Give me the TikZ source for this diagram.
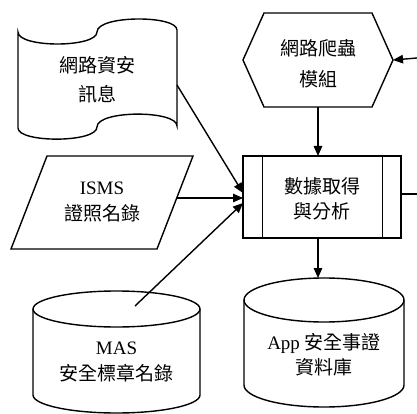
\documentclass[tikz,border=0pt]{standalone}
\usepackage{fontspec}
\setmainfont{Liberation Serif}
\newfontfamily\cjk{Noto Sans CJK TC}
\usetikzlibrary{arrows.meta}
\begin{document}
\begin{tikzpicture}[x=1pt,y=-1pt,line width=1.4pt,
  txt/.style={font=\fontsize{19}{24}\selectfont,align=center,inner sep=0pt},
  arr/.style={-{Triangle[length=10pt,width=8.5pt]}},
  shapeline/.style={draw=black,line width=1.4pt}]
\useasboundingbox (0,0) rectangle (417,414);

% wavy document
\draw[shapeline] (18,32) .. controls (18,48) and (97,48) .. (97,32)
  .. controls (97,15) and (177,15) .. (177,30) -- (177,126)
  .. controls (177,110) and (97,110) .. (97,127)
  .. controls (97,143) and (18,143) .. (18,128) -- cycle;
\node[txt] (doctext) at (97,80) {{\cjk 網路資安}\\[5pt]{\cjk 訊息}};
\coordinate (docR) at (177,85);

% hexagon
\draw[shapeline] (243,60) -- (264,13) -- (372,13) -- (393,60) -- (372,107) -- (264,107) -- cycle;
\node[txt] (hextext) at (318,64) {{\cjk 網路爬蟲}\\[7pt]{\cjk 模組}};
\coordinate (hexR) at (393,60);
\coordinate (hexB) at (318,107);

% predefined process
\node[shapeline,minimum width=158pt,minimum height=82pt,inner sep=0pt] (proc) at (322,197) {};
\draw[shapeline] ([xshift=20pt]proc.north west) -- ([xshift=20pt]proc.south west);
\draw[shapeline] ([xshift=-19pt]proc.north east) -- ([xshift=-19pt]proc.south east);
\node[txt] (proctext) at (322,199) {{\cjk 數據取得}\\[1pt]{\cjk 與分析}};
\coordinate (procT) at (318,156);
\coordinate (procB) at (318,238);
\coordinate (procR) at (401,194);
\coordinate (procL1) at (243,193);
\coordinate (procL2) at (243,198);
\coordinate (procL3) at (243,203);

% parallelogram
\draw[shapeline] (47,156) -- (193,156) -- (157,249) -- (11,249) -- cycle;
\node[txt] (ismstext) at (102,202) {ISMS\\[2pt]{\cjk 證照名錄}};
\coordinate (ismsR) at (176.7,198);

% MAS cylinder
\draw[shapeline] (33,309) -- (33,395)
  .. controls (33,404.9) and (70.4,413) .. (116.5,413)
  .. controls (162.6,413) and (200,404.9) .. (200,395) -- (200,309);
\draw[shapeline] (116.5,309) ellipse [x radius=83.5, y radius=18];
\node[txt] (mastext) at (116.5,362) {MAS\\[2pt]{\cjk 安全標章名錄}};
\coordinate (masIn) at (135,306);

% App cylinder
\draw[shapeline] (244,300) -- (244,385)
  .. controls (244,397.2) and (279.8,407) .. (324,407)
  .. controls (368.2,407) and (404,397.2) .. (404,385) -- (404,300);
\draw[shapeline] (324,300) ellipse [x radius=80, y radius=22];
\node[txt] (apptext) at (324,355) {App {\cjk 安全事證}\\[1pt]{\cjk 資料庫}};
\coordinate (appT) at (318,278);

% edge coordinates
\coordinate (edgeA) at (417,58);
\coordinate (edgeB) at (417,194);

% connectors
\draw[arr] (docR) -- (procL1);
\draw[arr] (ismsR) -- (procL2);
\draw[arr] (masIn) -- (procL3);
\draw[arr] (hexB) -- (procT);
\draw[arr] (procB) -- (appT);
\draw[arr] (edgeA) -- (hexR);
\draw (procR) -- (edgeB);
\end{tikzpicture}
\end{document}
